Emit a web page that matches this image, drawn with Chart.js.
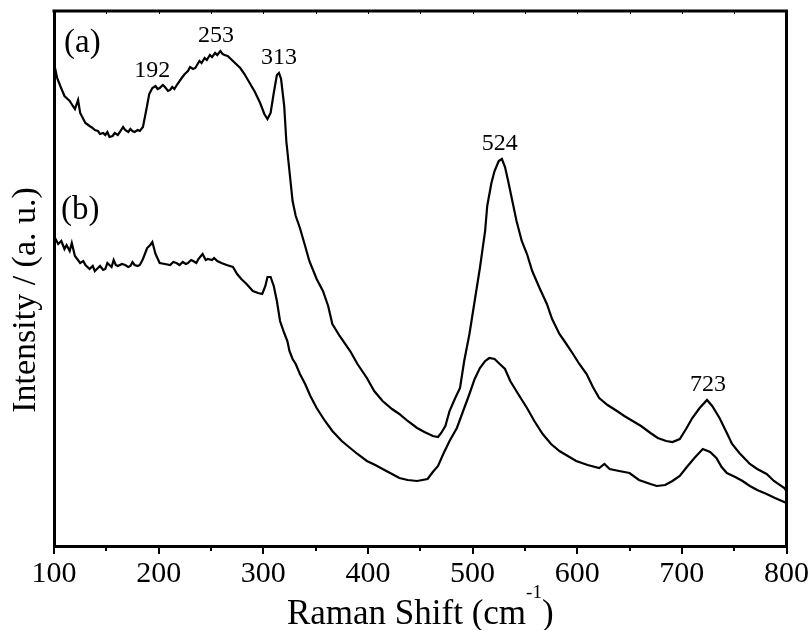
<!DOCTYPE html>
<html>
<head>
<meta charset="utf-8">
<script src="https://cdn.jsdelivr.net/npm/chart.js@4.4.0/dist/chart.umd.min.js"></script>
<style>
  html, body { margin: 0; padding: 0; background: #fff; }
  #wrap { width: 811px; height: 630px; }
</style>
</head>
<body>
<div id="wrap"><canvas id="ramanChart" width="811" height="630"></canvas></div>
<script>
// Raman spectra, wavenumber (cm-1) and intensity (arbitrary units)
const shiftA = [101,103,106,108,110,113,115,118,120,123,125,128,130,134,137,139,142,144,147,149,151,153,156,158,161,163,166,168,171,173,175,177,180,182,185,188,191,194,197,199,201,204,206,209,211,213,215,218,222,225,228,230,233,235,239,241,244,246,249,251,254,256,259,261,263,266,268,271,273,276,278,282,287,292,297,301,304,307,310,313,315,317,320,322,325,328,331,335,340,344,351,357,362,366,373,383,390,399,406,414,423,430,438,447,454,462,467,470,474,478,483,488,492,497,502,507,512,514,518,521,525,528,531,534,538,542,547,552,557,564,571,576,583,589,596,602,609,615,621,629,638,645,653,661,670,677,685,691,698,704,710,717,724,729,736,743,748,755,765,772,781,788,798,800];
const intensityA = [478,468,460,455,450,447,445,440,437,446,433,427,423,420,418,416,415,412,413,411,414,409,410,413,411,414,419,416,414,417,415,414,416,415,419,435,452,458,460,457,458,461,459,455,456,459,457,462,468,472,475,479,477,478,485,483,488,486,491,489,493,491,495,492,491,490,488,485,483,480,478,472,463,454,443,432,427,433,453,471,473,467,440,405,375,345,330,318,300,285,267,255,240,222,210,195,182,168,155,145,137,132,125,118,114,110,109,113,120,135,147,158,185,212,245,278,315,340,363,375,385,387,379,365,345,325,305,292,275,258,242,227,212,203,192,182,172,159,148,141,135,130,125,120,113,108,105,104,107,117,128,138,146,140,128,113,102,93,82,77,72,65,58,55];

const shiftB = [101,104,107,110,112,115,117,120,125,128,130,134,137,139,142,144,147,149,151,153,155,157,159,161,165,168,171,173,175,177,180,182,185,189,192,194,197,201,206,211,214,217,220,223,226,228,231,233,236,238,242,245,247,251,253,256,260,265,271,275,279,284,290,295,299,302,304,307,310,313,316,320,323,325,328,331,335,340,345,351,359,366,375,383,390,399,407,414,423,430,438,447,457,462,467,472,478,485,491,497,502,507,512,516,521,526,531,536,543,552,559,567,575,583,591,599,610,621,626,631,640,650,659,670,676,684,691,698,704,712,720,727,733,738,743,751,758,765,772,781,789,800];
const intensityB = [308,302,305,297,301,295,303,290,283,285,281,277,280,275,278,280,276,277,283,281,279,286,281,280,282,281,279,280,284,281,280,281,287,298,301,304,292,283,282,281,284,283,281,284,282,283,286,285,283,287,292,286,287,286,288,285,283,281,279,272,267,262,255,253,252,260,269,269,260,245,225,213,205,195,187,182,172,162,150,138,125,115,105,98,92,85,81,77,72,68,66,65,67,74,80,92,105,118,135,152,167,178,185,188,187,182,177,165,153,138,125,112,102,95,90,85,81,78,82,77,75,73,66,62,60,61,65,70,78,88,97,94,88,79,73,69,65,60,56,52,48,43];

const xTicks = [100, 200, 300, 400, 500, 600, 700, 800];
const peakShifts = [192, 253, 313, 524, 723];
const peakLabels = ["192", "253", "313", "524", "723"];
const panelLabels = ["(a)", "(b)"];

const toPoints = (xs, ys) => xs.map((x, i) => ({ x: x, y: ys[i] }));

const SERIF = "'Liberation Serif', 'Times New Roman', serif";

// draws the frame, minor ticks, labels and both axis titles
const decorPlugin = {
  id: "decor",
  afterDraw(chart) {
    const { ctx, chartArea, scales } = chart;
    const xs = scales.x;
    const ys = scales.y;
    ctx.save();
    ctx.strokeStyle = "#000";
    ctx.fillStyle = "#000";

    // top and right frame lines
    ctx.lineWidth = 3;
    ctx.beginPath();
    ctx.moveTo(chartArea.left - 1.5, chartArea.top);
    ctx.lineTo(chartArea.right, chartArea.top);
    ctx.lineTo(chartArea.right, chartArea.bottom + 1.5);
    ctx.stroke();

    // minor ticks bottom, short inward ticks on top
    ctx.lineWidth = 2;
    for (let v = 150; v < 800; v += 100) {
      const px = Math.round(xs.getPixelForValue(v));
      ctx.beginPath();
      ctx.moveTo(px, chartArea.bottom);
      ctx.lineTo(px, chartArea.bottom + 5);
      ctx.stroke();
    }
    ctx.lineWidth = 1;
    for (let v = 150; v < 800; v += 50) {
      const px = Math.round(xs.getPixelForValue(v)) + 0.5;
      ctx.beginPath();
      ctx.moveTo(px, chartArea.top);
      ctx.lineTo(px, chartArea.top + 3);
      ctx.stroke();
    }

    // peak labels above curve (a)
    ctx.font = "24px " + SERIF;
    ctx.textAlign = "center";
    ctx.textBaseline = "alphabetic";
    peakShifts.forEach((s, i) => {
      let top = -Infinity;
      shiftA.forEach((x, j) => {
        if (Math.abs(x - s) <= 8) top = Math.max(top, intensityA[j]);
      });
      ctx.fillText(peakLabels[i], xs.getPixelForValue(s) + 2, ys.getPixelForValue(top) - 9);
    });

    // panel labels
    ctx.font = "33px " + SERIF;
    ctx.textAlign = "left";
    ctx.fillText(panelLabels[0], chartArea.left + 10, ys.getPixelForValue(494));
    ctx.fillText(panelLabels[1], chartArea.left + 7, ys.getPixelForValue(327));

    // y axis title
    ctx.save();
    ctx.translate(35, 300);
    ctx.rotate(-Math.PI / 2);
    ctx.font = "34px " + SERIF;
    ctx.textAlign = "center";
    ctx.fillText("Intensity / (a. u.)", 0, 0);
    ctx.restore();

    // x axis title: Raman Shift (cm^-1)
    const main = "Raman Shift (cm";
    const sup = "-1";
    const tail = ")";
    ctx.font = "35px " + SERIF;
    const wMain = ctx.measureText(main).width;
    const wTail = ctx.measureText(tail).width;
    ctx.font = "19px " + SERIF;
    const wSup = ctx.measureText(sup).width;
    const cx = (chartArea.left + chartArea.right) / 2;
    let x0 = cx - (wMain + wSup + wTail) / 2;
    const base = 624;
    ctx.textAlign = "left";
    ctx.font = "35px " + SERIF;
    ctx.fillText(main, x0, base);
    x0 += wMain;
    ctx.font = "19px " + SERIF;
    ctx.fillText(sup, x0, base - 26);
    x0 += wSup;
    ctx.font = "35px " + SERIF;
    ctx.fillText(tail, x0, base);
    ctx.restore();
  },
};

document.addEventListener("DOMContentLoaded", () => {
  const ctx = document.getElementById("ramanChart").getContext("2d");

  new Chart(ctx, {
    type: "line",
    data: {
      datasets: [
        {
          label: "(a)",
          data: toPoints(shiftA, intensityA),
          borderColor: "#000",
          borderWidth: 2.2,
          pointRadius: 0,
          tension: 0,
          fill: false,
        },
        {
          label: "(b)",
          data: toPoints(shiftB, intensityB),
          borderColor: "#000",
          borderWidth: 2.2,
          pointRadius: 0,
          tension: 0,
          fill: false,
        },
      ],
    },
    options: {
      responsive: false,
      animation: false,
      layout: { padding: { top: 11, right: 24, left: 0, bottom: 0 } },
      plugins: {
        legend: { display: false },
        tooltip: { enabled: false },
      },
      scales: {
        x: {
          type: "linear",
          min: 100,
          max: 800,
          afterFit: (scale) => {
            scale.height = 84;
          },
          afterBuildTicks: (scale) => {
            scale.ticks = xTicks.map((v) => ({ value: v }));
          },
          ticks: {
            autoSkip: false,
            maxRotation: 0,
            padding: 2,
            color: "#000",
            font: { family: SERIF, size: 30 },
          },
          grid: {
            drawOnChartArea: false,
            drawTicks: true,
            tickLength: 8,
            color: "#000",
            lineWidth: 2,
          },
          border: { display: true, color: "#000", width: 3 },
        },
        y: {
          min: 0,
          max: 535,
          afterFit: (scale) => {
            scale.width = 54;
          },
          ticks: { display: false },
          grid: { display: false, drawTicks: false },
          border: { display: true, color: "#000", width: 3 },
        },
      },
    },
    plugins: [decorPlugin],
  });
});
</script>
</body>
</html>
